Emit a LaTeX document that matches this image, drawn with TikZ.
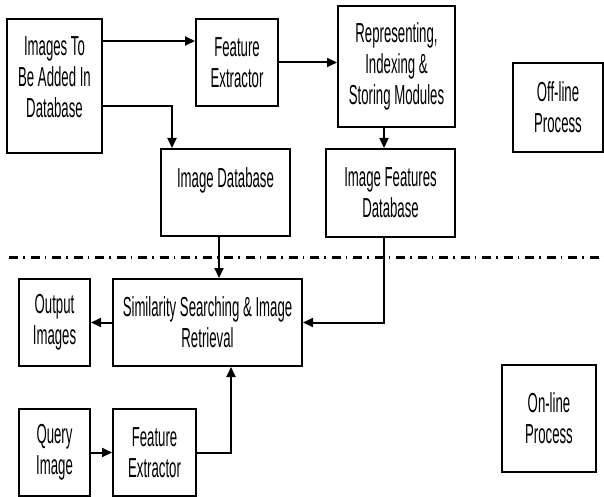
\documentclass[tikz,border=0pt]{standalone}
\usepackage{fontspec}
\setmainfont{Liberation Sans}[FakeStretch=0.48]
\usetikzlibrary{arrows.meta}

\tikzset{
    blk/.style={draw=black, line width=2pt, align=center, inner sep=0pt,
        font=\fontsize{27.5}{31}\selectfont},
    arr/.style={black, line width=2pt, -{Triangle[length=10pt,width=9pt]}},
}

\begin{document}
\begin{tikzpicture}[x=1pt, y=-1pt]
        \useasboundingbox (0,0) rectangle (604,497);
        % off-line part
        \node [blk, minimum width=95pt, minimum height=134pt, text depth=18pt] (imgs) at (54.5,86) {Images To\\Be Added In\\Database};
        \node [blk, minimum width=82pt, minimum height=87pt] (fext) at (237,62.5) {Feature\\Extractor};
        \node [blk, minimum width=117pt, minimum height=121pt] (ris) at (396.5,66.5) {Representing,\\Indexing \&\\Storing Modules};
        \node [blk, minimum width=129pt, minimum height=87pt, text depth=29pt] (imgdb) at (225.5,192.5) {Image Database};
        \node [blk, minimum width=129pt, minimum height=88pt] (featdb) at (390.5,193) {Image Features\\Database};
        \node [blk, minimum width=90pt, minimum height=89pt] (offline) at (558,107.5) {Off-line\\Process};

        % separator
        \draw [black, line width=3pt, dash pattern=on 9pt off 5pt on 1.5pt off 6pt] (9,257) to (604,257);

        % on-line part
        \node [blk, minimum width=189pt, minimum height=87pt] (search) at (207.5,322.5) {Similarity Searching \& Image\\Retrieval};
        \node [blk, minimum width=71pt, minimum height=87pt] (outimg) at (54.5,322.5) {Output\\Images};
        \node [blk, minimum width=71pt, minimum height=87pt] (query) at (54.5,452.5) {Query\\Image};
        \node [blk, minimum width=83pt, minimum height=87pt] (qext) at (154.5,452.5) {Feature\\Extractor};
        \node [blk, minimum width=94pt, minimum height=107pt] (online) at (549,418.5) {On-line\\Process};

        \coordinate (a1) at ([yshift=45pt]imgs.east);
        \coordinate (a2) at ([yshift=-20pt]imgs.east);
        \coordinate (a3) at ([xshift=-12.5pt]ris.south);
        \coordinate (a4) at ([xshift=-6.5pt]imgdb.south);
        \coordinate (a5) at ([xshift=-6.5pt]featdb.south);
        \coordinate (a6) at ([xshift=23.5pt]search.south);

        \draw [arr] (a1) to (a1 -| fext.west);
        \draw [arr] (fext.east) to (fext.east -| ris.west);
        \draw [arr] (a2) -| ([xshift=-53.5pt]imgdb.north);
        \draw [arr] (a3) to (a3 |- featdb.north);
        \draw [arr] (a4) to (a4 |- search.north);
        \draw [arr] (a5) |- (search.east);
        \draw [arr] (search.west) to (outimg.east);
        \draw [arr] (query.east) to (qext.west);
        \draw [arr] (qext.east) -| (a6);
    \end{tikzpicture}
\end{document}
